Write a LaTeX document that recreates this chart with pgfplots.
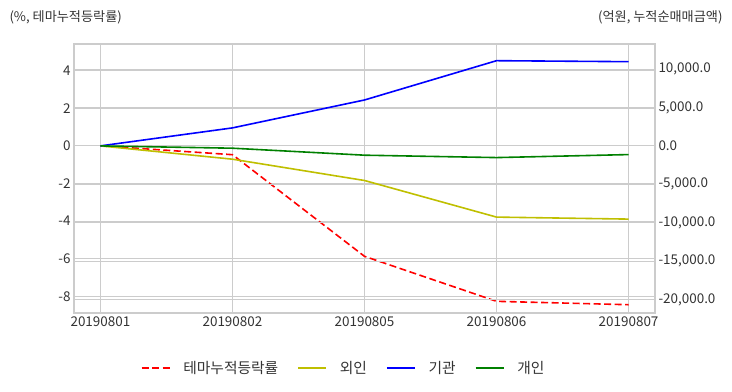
\documentclass[border=0pt]{standalone}
\usepackage{pgfplots}
\pgfplotsset{compat=1.18}
\usepackage{fontspec}
\setmainfont{Noto Sans CJK KR}
\definecolor{gridc}{HTML}{CCCCCC}
\definecolor{txt}{HTML}{333333}
\definecolor{myyellow}{rgb}{0.75,0.75,0}
\definecolor{mygreen}{rgb}{0,0.5,0}
\begin{document}
\begin{tikzpicture}
\useasboundingbox (0bp,0bp) rectangle (732bp,392bp);
\pgfplotsset{
 common/.style={
  scale only axis, width=581bp, height=269bp,
  at={(74bp,79bp)}, anchor=south west,
  xmin=-0.2, xmax=4.2,
  axis line style={draw=gridc, line width=1.25bp},
  grid style={draw=gridc, line width=0.8bp},
  major tick length=0pt,
  tick label style={font=\fontsize{13.5}{15}\selectfont, text=txt},
  /pgf/number format/assume math mode=true,
 }
}
\begin{axis}[common,
 ymin=-8.88, ymax=5.41,
 ytick={-8,-6,-4,-2,0,2,4},
 xtick={0,1,2,3,4},
 xticklabels={20190801,20190802,20190805,20190806,20190807},
 xmajorgrids, ymajorgrids,
 ]
\addplot[red, line width=1.6bp, dash pattern=on 7bp off 3.5bp] coordinates {(0,0) (1,-0.47) (2,-5.87) (3,-8.26) (4,-8.44)};
\end{axis}
\begin{axis}[common,
 ymin=-21730, ymax=13250,
 hide x axis,
 axis y line*=right,
 ytick={-20000,-15000,-10000,-5000,0,5000,10000},
 scaled y ticks=false,
 yticklabel style={/pgf/number format/.cd, fixed, fixed zerofill, precision=1, 1000 sep={,}},
 ymajorgrids,
 legend columns=4,
 legend style={at={(axis description cs:0.464,-0.2045)}, anchor=center, draw=none, fill=none,
   font=\fontsize{14.8}{16}\selectfont, text=txt,
   /tikz/every odd column/.append style={column sep=11bp},
   /tikz/every even column/.append style={column sep=17bp}},
 legend image code/.code={\draw[#1] (0bp,0bp) -- (28bp,0bp);},
 ]
\addlegendimage{red, line width=1.6bp, dash pattern=on 7bp off 3.5bp}
\addlegendentry{테마누적등락률}
\addplot[myyellow, line width=1.6bp] coordinates {(0,0) (1,-1730) (2,-4500) (3,-9260) (4,-9520)};
\addlegendentry{외인}
\addplot[blue, line width=1.6bp] coordinates {(0,0) (1,2340) (2,5970) (3,11080) (4,10950)};
\addlegendentry{기관}
\addplot[mygreen, line width=1.6bp] coordinates {(0,0) (1,-300) (2,-1210) (3,-1520) (4,-1130)};
\addlegendentry{개인}
\end{axis}
\node[anchor=west, font=\fontsize{13.2}{15}\selectfont, text=txt] at (6bp,375bp) {(\%, 테마누적등락률)};
\node[anchor=east, font=\fontsize{13.2}{15}\selectfont, text=txt] at (726bp,375bp) {(억원, 누적순매매금액)};
\end{tikzpicture}
\end{document}
